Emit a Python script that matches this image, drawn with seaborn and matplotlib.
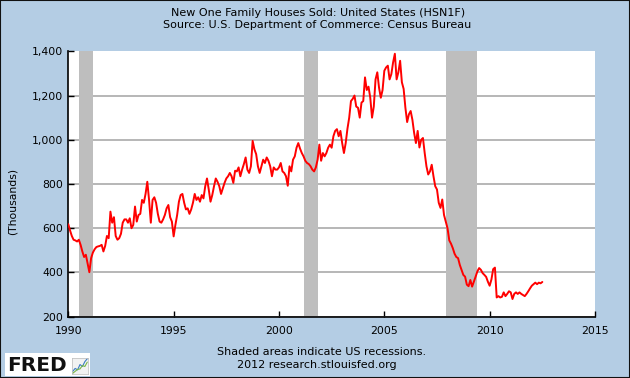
import numpy as np
import pandas as pd
import seaborn as sns
import matplotlib.pyplot as plt
from matplotlib.patches import Rectangle
from matplotlib.ticker import FuncFormatter

## New one family houses sold, monthly, thousands
sold_1990 = [618, 590, 565, 548, 545, 540, 548, 525, 495, 470, 480, 440]
sold_1991 = [401, 465, 490, 505, 515, 518, 520, 525, 495, 520, 565, 555]
sold_1992 = [675, 625, 650, 565, 548, 555, 575, 625, 640, 640, 625, 645]
sold_1993 = [600, 615, 698, 630, 660, 665, 728, 715, 755, 810, 728, 625]
sold_1994 = [728, 740, 715, 665, 630, 625, 640, 660, 690, 705, 650, 630]
sold_1995 = [563, 615, 660, 720, 750, 755, 715, 685, 690, 665, 685, 715]
sold_1996 = [755, 728, 740, 720, 750, 735, 790, 825, 775, 720, 750, 790]
sold_1997 = [825, 810, 790, 755, 780, 805, 825, 835, 850, 835, 805, 860]
sold_1998 = [857, 875, 835, 865, 890, 920, 865, 850, 880, 995, 957, 935]
sold_1999 = [880, 850, 880, 910, 895, 920, 905, 880, 835, 875, 865, 865]
sold_2000 = [875, 895, 857, 850, 835, 792, 880, 857, 910, 925, 964, 985]
sold_2001 = [960, 940, 925, 905, 895, 890, 880, 865, 857, 875, 910, 978]
sold_2002 = [905, 940, 925, 940, 964, 978, 964, 1016, 1040, 1048, 1016, 1040]
sold_2003 = [985, 940, 985, 1050, 1100, 1175, 1185, 1200, 1150, 1145, 1100, 1168]
sold_2004 = [1175, 1282, 1225, 1240, 1190, 1100, 1150, 1273, 1305, 1235, 1190, 1225]
sold_2005 = [1312, 1327, 1335, 1273, 1297, 1350, 1389, 1273, 1305, 1357, 1260, 1230]
sold_2006 = [1145, 1080, 1115, 1130, 1090, 1030, 985, 1040, 965, 1000, 1008, 940]
sold_2007 = [880, 843, 857, 887, 835, 790, 775, 715, 692, 730, 660, 630]
sold_2008 = [600, 545, 530, 510, 485, 470, 465, 434, 412, 389, 381, 345]
sold_2009 = [338, 366, 336, 358, 381, 405, 420, 412, 397, 389, 380, 358]
sold_2010 = [340, 368, 415, 422, 287, 293, 287, 290, 310, 293, 303, 315]
sold_2011 = [310, 280, 303, 310, 303, 310, 303, 298, 293, 303, 315, 328]
sold_2012 = [340, 347, 354, 347, 354, 351, 357]

sold = (sold_1990 + sold_1991 + sold_1992 + sold_1993 + sold_1994 + sold_1995
        + sold_1996 + sold_1997 + sold_1998 + sold_1999 + sold_2000 + sold_2001
        + sold_2002 + sold_2003 + sold_2004 + sold_2005 + sold_2006 + sold_2007
        + sold_2008 + sold_2009 + sold_2010 + sold_2011 + sold_2012)

# NBER recessions (peak month, trough month)
recessions = [("1990-07-01", "1991-03-01"),
              ("2001-03-01", "2001-11-01"),
              ("2007-12-01", "2009-06-01")]

x_ticks = [1990, 1995, 2000, 2005, 2010, 2015]
y_ticks = [200, 400, 600, 800, 1000, 1200, 1400]

def to_year(d):
    d = pd.Timestamp(d)
    return d.year + (d.month - 1) / 12

dates = pd.date_range("1990-01-01", periods=len(sold), freq="MS")
df = pd.DataFrame({"year": dates.year + (dates.month - 1) / 12, "sold": sold})

bg = "#B4CDE4"
sns.set_style("white")
plt.rcParams["font.family"] = ["DejaVu Sans"]
fs = 7.8
fs_txt = 8.05

fig = plt.figure(figsize=(6.3, 3.78), dpi=100, facecolor=bg)
W, H = 630, 378
ax = fig.add_axes([68.3 / W, 1 - 316.7 / H, (595 - 68.3) / W, (316.7 - 51.3) / H])
ax.set_facecolor("white")

for start, end in recessions:
    ax.axvspan(to_year(start), to_year(end), color="#BEBEBE", lw=0, zorder=1)

sns.lineplot(data=df, x="year", y="sold", color="#FF0000", lw=1.4, ax=ax, zorder=3)

ax.set_xlim(x_ticks[0], x_ticks[-1])
ax.set_ylim(y_ticks[0], y_ticks[-1])
ax.set_xticks(x_ticks)
ax.set_yticks(y_ticks)
ax.yaxis.set_major_formatter(FuncFormatter(lambda v, p: f"{int(v):,}"))
ax.set_xlabel("")
ax.set_ylabel("")

ax.yaxis.grid(True, color="#AAAAAA", lw=1.2, zorder=0)
ax.set_axisbelow(True)
ax.get_ygridlines()[-1].set_visible(False)

for side in ["top", "right"]:
    ax.spines[side].set_visible(False)
for side in ["left", "bottom"]:
    ax.spines[side].set_color("black")
    ax.spines[side].set_linewidth(1.2)
ax.tick_params(axis="both", direction="in", length=4, width=1, color="black",
               labelsize=fs, labelcolor="black")
ax.tick_params(axis="y", pad=3.6, left=True)
ax.tick_params(axis="x", pad=6.5, bottom=True)

fig.text(13 / W, 1 - 201 / H, "(Thousands)", rotation=90, ha="center", va="center",
         fontsize=fs, color="black")

fig.text(318 / W, 1 - 12.7 / H, "New One Family Houses Sold: United States (HSN1F)",
         ha="center", va="center", fontsize=fs_txt, color="black")
fig.text(317 / W, 1 - 25.5 / H, "Source: U.S. Department of Commerce: Census Bureau",
         ha="center", va="center", fontsize=fs_txt, color="black")
fig.text(321.7 / W, 1 - 351.7 / H, "Shaded areas indicate US recessions.",
         ha="center", va="center", fontsize=fs_txt, color="black")
fig.text(317 / W, 1 - 365 / H, "2012 research.stlouisfed.org",
         ha="center", va="center", fontsize=fs_txt, color="black")

# FRED logo
fig.patches.append(Rectangle((5 / W, 1 - 376 / H), 85 / W, 23 / H, transform=fig.transFigure,
                             facecolor="white", edgecolor="none"))
fig.text(7 / W, 1 - 365.5 / H, "FRED", ha="left", va="center", fontsize=14.5,
         fontweight="bold", color="#111111")
icon_x = [0, 1, 2, 3, 4, 5, 6]
icon_a = [1.0, 1.6, 1.3, 2.4, 2.0, 3.0, 3.6]
icon_b = [0.6, 1.0, 1.4, 1.5, 2.2, 2.0, 2.9]
iax = fig.add_axes([72 / W, 1 - 374 / H, 16 / W, 16 / H], zorder=5)
iax.set_facecolor("#F2F2F2")
iax.plot(icon_x, icon_a, color="#3B7DC4", lw=0.8)
iax.plot(icon_x, icon_b, color="#7AB648", lw=0.8)
iax.set_xticks([])
iax.set_yticks([])
for s in iax.spines.values():
    s.set_color("#BBBBBB")
    s.set_linewidth(0.5)

# outer border
fig.patches.append(Rectangle((0, 0), 1, 1, transform=fig.transFigure, facecolor="none",
                             edgecolor="#111111", lw=1.5))

fig.savefig("out.png", dpi=100, facecolor=bg)
